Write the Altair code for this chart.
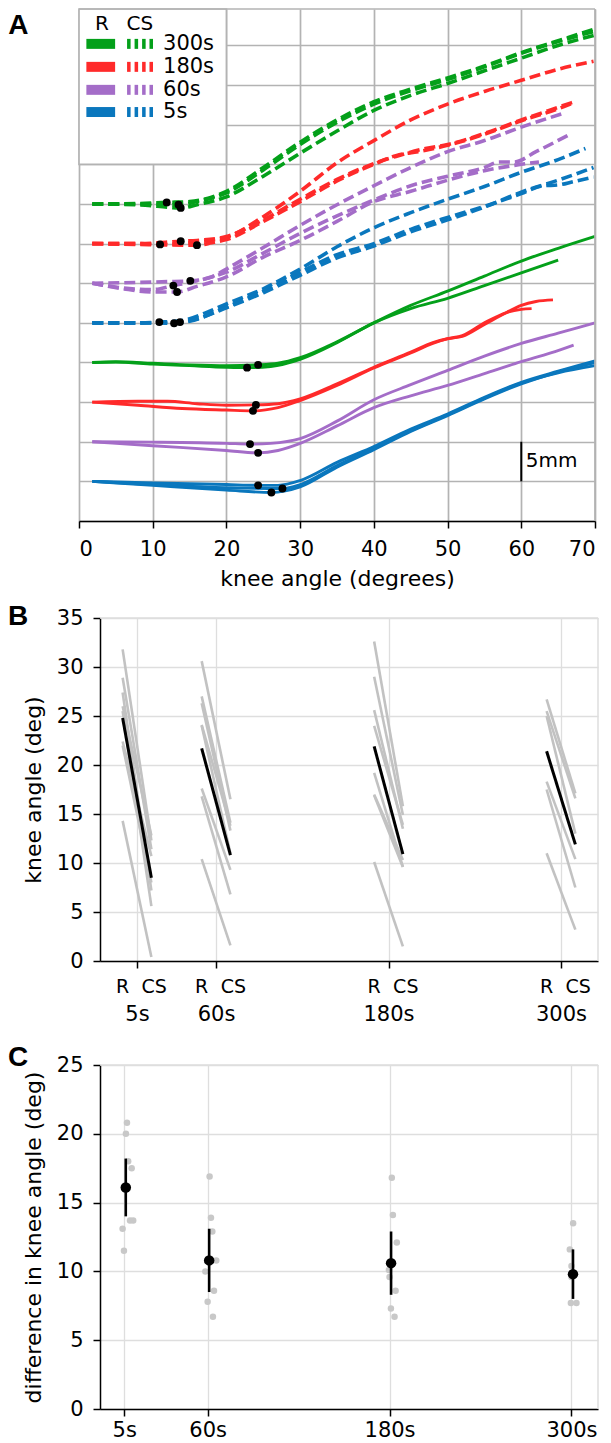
import altair as alt
import pandas as pd

# ---------------- Panel A data (knee angle in degrees, displacement in mm incl. offset) ----------------
conds = ["5s", "60s", "180s", "300s"]
cond_colors = ["#0a77bd", "#a46dc8", "#ff2a2a", "#04a01a"]

blue_r1 = [(1.8, 5.0), (10, 4.8), (20, 4.6), (24.3, 4.5), (27, 4.5), (30, 5.1), (35, 7.4), (40, 9.4), (45, 11.6), (50, 13.5), (55, 15.6), (60, 17.5), (65, 18.9), (70, 20.2)]
blue_r2 = [(1.8, 5.0), (10, 4.5), (20, 3.9), (26.1, 3.6), (28, 3.8), (30, 4.3), (35, 6.8), (40, 9.0), (45, 11.3), (50, 13.3), (55, 15.4), (60, 17.3), (65, 18.8), (70, 20.0)]
blue_r3 = [(1.8, 5.0), (10, 4.6), (20, 4.2), (27.6, 4.1), (30, 4.6), (35, 7.0), (40, 9.2), (45, 11.4), (50, 13.4), (55, 15.5), (60, 17.4), (65, 18.7), (70, 19.6)]
purple_r1 = [(1.8, 10.0), (10, 9.95), (20, 9.8), (23.2, 9.7), (26, 9.8), (30, 10.4), (35, 12.6), (40, 15.3), (45, 17.2), (50, 19.0), (55, 20.8), (60, 22.4), (65, 23.7), (70, 25.0)]
purple_r2 = [(1.8, 10.0), (10, 9.5), (20, 8.9), (24.3, 8.6), (27, 8.9), (30, 9.8), (35, 12.0), (40, 14.3), (45, 15.8), (50, 17.1), (55, 18.6), (60, 20.1), (64, 21.2), (67.1, 22.2)]
red_r1 = [(1.8, 15.0), (8, 15.1), (12, 15.1), (16, 14.8), (20, 14.6), (24.0, 14.65), (27, 14.8), (30, 15.4), (35, 17.3), (40, 19.4), (45, 21.3), (48, 22.5), (50, 23.0), (52, 23.3), (55, 24.8), (58, 26.3), (60, 27.2), (62, 27.7), (64.3, 27.9)]
red_r2 = [(1.8, 15.0), (8, 14.6), (14, 14.2), (20, 14.0), (23.6, 13.9), (27, 14.3), (30, 15.2), (35, 17.1), (40, 19.3), (45, 21.2), (48, 22.4), (50, 23.0), (52, 23.4), (55, 25.0), (58, 26.3), (60, 26.7), (61.4, 26.8)]
green_r1 = [(1.8, 20.0), (5, 20.1), (10, 19.9), (15, 19.7), (20, 19.6), (24.3, 19.7), (27, 19.9), (30, 20.6), (35, 22.6), (40, 25.0), (45, 27.2), (50, 29.0), (55, 30.9), (60, 32.8), (65, 34.4), (70, 35.9)]
green_r2 = [(1.8, 20.0), (5, 20.05), (10, 19.8), (15, 19.6), (20, 19.4), (22.8, 19.35), (26, 19.5), (30, 20.4), (35, 22.5), (40, 25.0), (45, 26.8), (50, 28.1), (55, 29.7), (60, 31.3), (65, 32.9)]

blue_cs1 = [(1.8, 25.0), (8, 25.0), (10.9, 25.1), (14, 25.3), (17, 26.2), (20, 27.4), (25, 29.3), (30, 31.8), (35, 34.6), (40, 37.0), (45, 38.9), (50, 40.6), (55, 42.2), (60, 44.0), (65, 45.6), (68.7, 47.0)]
blue_cs2 = [(1.8, 25.0), (8, 25.0), (12.9, 24.95), (15, 25.2), (20, 27.0), (25, 29.0), (30, 31.4), (35, 33.6), (40, 35.0), (45, 36.8), (50, 38.3), (55, 39.7), (60, 41.3), (63, 42.3), (65, 42.4), (67, 42.8), (69.8, 43.4)]
blue_cs3 = [(1.8, 25.0), (8, 25.0), (13.7, 25.1), (16, 25.5), (20, 26.9), (25, 28.8), (30, 31.0), (35, 33.2), (40, 34.7), (45, 36.5), (50, 38.0), (55, 39.6), (60, 41.5), (65, 43.0), (69.8, 44.6)]
purple_cs1 = [(1.8, 30.0), (8, 30.1), (12, 30.2), (15.1, 30.3), (18, 30.8), (20, 31.8), (25, 34.5), (30, 37.3), (35, 39.9), (40, 42.3), (45, 44.6), (50, 46.6), (55, 48.0), (60, 49.7), (65.6, 51.4)]
purple_cs2 = [(1.8, 30.0), (6, 29.4), (10, 29.2), (12.8, 29.7), (16, 30.3), (20, 31.4), (25, 33.8), (30, 36.3), (35, 38.5), (40, 40.5), (45, 42.3), (50, 43.5), (55, 44.6), (57, 45.3), (59, 45.3), (62, 46.6), (66.4, 48.7)]
purple_cs3 = [(1.8, 30.0), (6, 29.3), (10, 28.9), (13.3, 28.9), (16, 29.6), (20, 30.8), (25, 33.3), (30, 35.4), (35, 37.8), (40, 40.3), (45, 41.6), (50, 43.0), (55, 44.2), (60, 45.0), (62.4, 45.3)]
red_cs1 = [(1.8, 35.0), (8, 35.0), (11.0, 34.9), (14, 35.0), (17, 35.3), (20, 35.8), (25, 38.4), (30, 41.6), (35, 45.2), (40, 48.0), (45, 50.6), (50, 52.6), (55, 54.2), (60, 55.6), (65, 57.0), (69.8, 58.0)]
red_cs2 = [(1.8, 35.0), (8, 35.0), (13.8, 35.3), (16, 35.4), (20, 35.9), (25, 38.0), (30, 40.6), (35, 43.1), (40, 45.1), (43, 46.0), (47, 47.0), (50, 47.5), (55, 48.9), (60, 50.6), (65, 52.2), (67.2, 52.9)]
red_cs3 = [(1.8, 35.0), (8, 34.9), (16.0, 34.8), (18, 35.1), (20, 35.5), (25, 37.8), (30, 40.3), (35, 42.9), (40, 45.0), (43, 46.1), (46, 46.6), (50, 47.4), (55, 48.8), (60, 50.5), (65, 52.0), (67.2, 52.8)]
green_cs1 = [(1.8, 40.0), (8, 40.05), (11.9, 40.2), (15, 40.3), (20, 41.6), (25, 44.6), (30, 47.8), (35, 50.6), (40, 52.9), (45, 54.5), (50, 55.9), (55, 57.4), (60, 59.1), (65, 60.6), (70, 62.1)]
green_cs2 = [(1.8, 40.0), (8, 40.0), (13.5, 39.9), (16, 40.3), (20, 41.4), (25, 44.3), (30, 47.5), (35, 50.3), (40, 52.6), (45, 54.3), (50, 55.7), (55, 57.3), (60, 59.0), (65, 60.5), (70, 61.8)]
green_cs3 = [(1.8, 40.0), (8, 39.9), (13.8, 39.5), (16, 39.9), (20, 40.9), (25, 43.5), (30, 46.4), (35, 49.2), (40, 51.8), (45, 53.7), (50, 55.2), (55, 56.8), (60, 58.4), (65, 60.0), (70, 61.3)]

knee_deg = [24.3, 26.1, 27.6, 23.2, 24.3, 24.0, 23.6, 22.8, 24.3,
            10.9, 12.9, 13.7, 15.1, 12.8, 13.3, 11.0, 13.8, 16.0, 11.9, 13.5, 13.8]
knee_mm = [4.5, 3.6, 4.1, 9.7, 8.6, 14.65, 13.9, 19.35, 19.7,
           25.1, 24.95, 25.1, 30.3, 29.7, 28.9, 34.9, 35.3, 34.8, 40.2, 39.9, 39.5]

# ---------------- Panel B data (knee angle, deg) ----------------
times = [5, 60, 180, 300]
b_r_5 = [31.8, 28.9, 27.4, 26.0, 25.5, 22.4, 22.0, 14.3]
b_cs_5 = [12.3, 11.4, 7.2, 12.8, 5.6, 10.7, 8.0, 0.4]
b_r_60 = [30.6, 27.0, 26.3, 24.1, 24.0, 17.6, 16.8, 10.4]
b_cs_60 = [16.5, 14.1, 13.3, 13.8, 11.0, 9.3, 6.8, 1.6]
b_r_180 = [32.6, 29.0, 25.6, 24.0, 19.2, 17.0, 16.9, 10.1]
b_cs_180 = [15.8, 14.9, 13.5, 13.9, 9.6, 10.3, 9.6, 1.5]
b_r_300 = [26.7, 25.5, 25.0, 18.3, 17.5, 11.0]
b_cs_300 = [17.1, 16.6, 13.0, 10.4, 7.5, 3.2]
b_mean_r = [24.8, 21.7, 21.9, 21.4]
b_mean_cs = [8.5, 10.8, 10.9, 11.9]

# ---------------- Panel C data (difference, deg) ----------------
c_5 = [20.8, 20.0, 18.0, 17.5, 13.7, 13.7, 13.1, 11.5]
c_60 = [16.9, 13.9, 12.9, 10.8, 10.0, 8.6, 7.8, 6.7]
c_180 = [16.8, 14.1, 12.1, 10.1, 9.6, 8.6, 7.3, 6.7]
c_300 = [13.5, 11.6, 10.4, 9.6, 7.7, 7.7]
c_jit_5 = [1.8, 1.1, 2.6, 4.9, 3.8, 5.9, -1.1, -0.2]
c_jit_60 = [1.3, 2.2, 3.1, 5.7, -1.5, 4.2, 0.0, 3.5]
c_jit_180 = [1.5, 2.2, 4.8, -0.4, 0.0, 4.0, 0.9, 3.3]
c_jit_300 = [1.1, -1.1, 0.0, 0.0, -0.4, 3.3]
c_mean = [16.1, 10.8, 10.6, 9.8]
c_lo = [14.0, 8.5, 8.3, 8.0]
c_hi = [18.2, 13.1, 12.9, 11.6]

FONT = "DejaVu Sans"
one = pd.DataFrame({"k": [0]})

# ================= Panel A =================
WA, HA = 516, 512
GRID_A = "#b3b3b3"
traces = [
    ("5s", "R", blue_r1), ("5s", "R", blue_r2), ("5s", "R", blue_r3),
    ("60s", "R", purple_r1), ("60s", "R", purple_r2),
    ("180s", "R", red_r1), ("180s", "R", red_r2),
    ("300s", "R", green_r1), ("300s", "R", green_r2),
    ("5s", "CS", blue_cs1), ("5s", "CS", blue_cs2), ("5s", "CS", blue_cs3),
    ("60s", "CS", purple_cs1), ("60s", "CS", purple_cs2), ("60s", "CS", purple_cs3),
    ("180s", "CS", red_cs1), ("180s", "CS", red_cs2), ("180s", "CS", red_cs3),
    ("300s", "CS", green_cs1), ("300s", "CS", green_cs2), ("300s", "CS", green_cs3),
]
rows = []
for ti, (c, kind, pts) in enumerate(traces):
    for oi, (xv, yv) in enumerate(pts):
        rows.append({"x": xv, "y": yv, "trace": ti, "cond": c, "kind": kind, "o": oi})
dfA = pd.DataFrame(rows)

xA = alt.X("x:Q", scale=alt.Scale(domain=[0, 70], nice=False, zero=False),
           axis=alt.Axis(values=list(range(0, 71, 10)), title="knee angle (degrees)",
                         grid=True, gridColor=GRID_A, gridWidth=1.7,
                         labelPadding=10, titlePadding=9))
yA = alt.Y("y:Q", scale=alt.Scale(domain=[0, 64.6], nice=False, zero=False),
           axis=alt.Axis(values=list(range(0, 61, 5)), grid=True, gridColor=GRID_A, gridWidth=1.7,
                         labels=False, ticks=False, domain=False, title=None))
colA = alt.Color("cond:N", scale=alt.Scale(domain=conds, range=cond_colors), legend=None)

linesR = alt.Chart(dfA[dfA.kind == "R"]).mark_line(strokeWidth=2.9, interpolate="monotone").encode(
    x=xA, y=yA, color=colA, detail="trace:N", order="o:Q")
linesCS = alt.Chart(dfA[dfA.kind == "CS"]).mark_line(strokeWidth=3.6, interpolate="monotone",
                                                     strokeDash=[11, 5]).encode(
    x=xA, y=yA, color=colA, detail="trace:N", order="o:Q")
dots = alt.Chart(pd.DataFrame({"x": knee_deg, "y": knee_mm})).mark_circle(
    size=62, color="black", opacity=1).encode(x=xA, y=yA)

# legend box (white area in the upper-left grid cells)
leg_box = alt.Chart(pd.DataFrame({"x": [0], "x2": [20], "y": [45], "y2": [64.6]})).mark_rect(
    fill="white", stroke=GRID_A, strokeWidth=1.7).encode(x=xA, x2="x2:Q", y=yA, y2="y2:Q")
leg_order = ["300s", "180s", "60s", "5s"]
row_mm = [60.2, 57.3, 54.4, 51.6]
half = 0.63
leg_solid = alt.Chart(pd.DataFrame({
    "x": [1.0] * 4, "x2": [4.9] * 4, "y": [m - half for m in row_mm], "y2": [m + half for m in row_mm],
    "cond": leg_order})).mark_rect().encode(x=xA, x2="x2:Q", y=yA, y2="y2:Q", color=colA)
bar_centers = [6.76, 7.78, 8.8, 9.8]
dash_rows = []
for m, c in zip(row_mm, leg_order):
    for bc in bar_centers:
        dash_rows.append({"x": bc - 0.24, "x2": bc + 0.24, "y": m - half, "y2": m + half, "cond": c})
leg_dash = alt.Chart(pd.DataFrame(dash_rows)).mark_rect().encode(
    x=xA, x2="x2:Q", y=yA, y2="y2:Q", color=colA)
leg_text = alt.Chart(pd.DataFrame({"x": [11.4] * 4, "y": row_mm, "t": leg_order})).mark_text(
    align="left", baseline="middle", fontSize=21, font=FONT, color="black").encode(x=xA, y=yA, text="t:N")
leg_head = alt.Chart(pd.DataFrame({"x": [3.1, 8.25], "y": [62.7, 62.7], "t": ["R", "CS"]})).mark_text(
    align="center", baseline="middle", fontSize=20, font=FONT, color="black").encode(x=xA, y=yA, text="t:N")

# 5 mm scale bar
scale_bar = alt.Chart(pd.DataFrame({"x": [60], "y": [5], "y2": [10]})).mark_rule(
    color="black", strokeWidth=2).encode(x=xA, y=yA, y2="y2:Q")
scale_txt = alt.Chart(pd.DataFrame({"x": [60.6], "y": [7.6], "t": ["5mm"]})).mark_text(
    align="left", baseline="middle", fontSize=20, font=FONT, color="black").encode(x=xA, y=yA, text="t:N")

frameA_top = alt.Chart(one).mark_rule(color=GRID_A, strokeWidth=1.7).encode(
    x=alt.value(0), x2=alt.value(WA), y=alt.value(0))
frameA_right = alt.Chart(one).mark_rule(color=GRID_A, strokeWidth=1.7).encode(
    x=alt.value(WA), y=alt.value(0), y2=alt.value(HA))
letterA = alt.Chart(one).mark_text(text="A", align="left", baseline="alphabetic", fontSize=28,
                                   font="Liberation Sans", fontWeight="bold", color="black").encode(
    x=alt.value(-70.7), y=alt.value(25))

panelA = alt.layer(leg_box, linesCS, linesR, dots, leg_solid, leg_dash, leg_text, leg_head,
                   scale_bar, scale_txt, frameA_top, frameA_right, letterA).properties(width=WA, height=HA)

# ================= Panel B =================
WB, HB = 498, 343
GRID_L = "#dedede"
b_r = [b_r_5, b_r_60, b_r_180, b_r_300]
b_cs = [b_cs_5, b_cs_60, b_cs_180, b_cs_300]
rowsB, rowsM = [], []
for i, t in enumerate(times):
    for j, (r, cs) in enumerate(zip(b_r[i], b_cs[i])):
        rowsB.append({"x": t - 10, "y": r, "id": f"{t}_{j}"})
        rowsB.append({"x": t + 10, "y": cs, "id": f"{t}_{j}"})
    rowsM.append({"x": t - 10, "y": b_mean_r[i], "id": str(t)})
    rowsM.append({"x": t + 10, "y": b_mean_cs[i], "id": str(t)})
dfB, dfBM = pd.DataFrame(rowsB), pd.DataFrame(rowsM)

xB = alt.X("x:Q", scale=alt.Scale(domain=[-20.75, 325.75], nice=False, zero=False),
           axis=alt.Axis(values=times, labelExpr="datum.value + 's'", title=None, grid=True,
                         gridColor=GRID_L, gridWidth=1.3, labelPadding=35))
yB = alt.Y("y:Q", scale=alt.Scale(domain=[0, 35], nice=False, zero=False),
           axis=alt.Axis(values=list(range(0, 36, 5)), title="knee angle (deg)", grid=True,
                         gridColor=GRID_L, gridWidth=1.3, labelPadding=10, titlePadding=11))
subj_lines = alt.Chart(dfB).mark_line(color="#c2c2c2", strokeWidth=2.6).encode(x=xB, y=yB, detail="id:N")
mean_lines = alt.Chart(dfBM).mark_line(color="black", strokeWidth=3).encode(x=xB, y=yB, detail="id:N")
rcs_rows = []
for t in times:
    rcs_rows.append({"x": t - 10, "t": "R"})
    rcs_rows.append({"x": t + 12, "t": "CS"})
rcs_text = alt.Chart(pd.DataFrame(rcs_rows)).mark_text(
    baseline="middle", align="center", fontSize=19, font=FONT, color="black").encode(
    x=xB, y=alt.value(HB + 26), text="t:N")
frameB_top = alt.Chart(one).mark_rule(color=GRID_L, strokeWidth=1.5).encode(
    x=alt.value(0), x2=alt.value(WB), y=alt.value(0))
frameB_right = alt.Chart(one).mark_rule(color=GRID_L, strokeWidth=1.5).encode(
    x=alt.value(WB), y=alt.value(0), y2=alt.value(HB))
letterB = alt.Chart(one).mark_text(text="B", align="left", baseline="alphabetic", fontSize=28,
                                   font="Liberation Sans", fontWeight="bold", color="black").encode(
    x=alt.value(-92), y=alt.value(7))
panelB = alt.layer(subj_lines, mean_lines, rcs_text, frameB_top, frameB_right, letterB).properties(
    width=WB, height=HB)

# ================= Panel C =================
WC, HC = 498, 344
c_vals = [c_5, c_60, c_180, c_300]
c_jit = [c_jit_5, c_jit_60, c_jit_180, c_jit_300]
rowsC = []
for i, t in enumerate(times):
    for v, j in zip(c_vals[i], c_jit[i]):
        rowsC.append({"x": t + j, "y": v})
dfC = pd.DataFrame(rowsC)
dfCM = pd.DataFrame({"x": [t + 1 for t in times], "y": c_mean, "lo": c_lo, "hi": c_hi})

c_yscale = alt.Scale(domain=[0, 25], nice=False, zero=False)
c_yaxis = alt.Axis(values=list(range(0, 26, 5)), title="difference in knee angle (deg)", grid=True,
                   gridColor=GRID_L, gridWidth=1.3, labelPadding=10, titlePadding=11)
xC = alt.X("x:Q", scale=alt.Scale(domain=[-11, 317.5], nice=False, zero=False),
           axis=alt.Axis(values=times, labelExpr="datum.value + 's'", title=None, grid=True,
                         gridColor=GRID_L, gridWidth=1.3, labelPadding=3))
yC = alt.Y("y:Q", scale=c_yscale, axis=c_yaxis)
c_dots = alt.Chart(dfC).mark_circle(size=42, color="#c8c8c8", opacity=1).encode(x=xC, y=yC)
c_err = alt.Chart(dfCM).mark_rule(color="black", strokeWidth=2.6).encode(
    x=xC, y=alt.Y("lo:Q", scale=c_yscale, axis=c_yaxis), y2="hi:Q")
c_mean_pt = alt.Chart(dfCM).mark_circle(size=110, color="black", opacity=1).encode(x=xC, y=yC)
frameC_top = alt.Chart(one).mark_rule(color=GRID_L, strokeWidth=1.5).encode(
    x=alt.value(0), x2=alt.value(WC), y=alt.value(0))
frameC_right = alt.Chart(one).mark_rule(color=GRID_L, strokeWidth=1.5).encode(
    x=alt.value(WC), y=alt.value(0), y2=alt.value(HC))
letterC = alt.Chart(one).mark_text(text="C", align="left", baseline="alphabetic", fontSize=28,
                                   font="Liberation Sans", fontWeight="bold", color="black").encode(
    x=alt.value(-92), y=alt.value(1))
panelC = alt.layer(c_dots, c_err, c_mean_pt, frameC_top, frameC_right, letterC).properties(
    width=WC, height=HC)


def spacer():
    return alt.Chart(one).mark_point(opacity=0).encode(x=alt.value(0), y=alt.value(0)).properties(
        width=1, height=1)


rowB = alt.hconcat(spacer(), panelB, spacing=20, bounds="flush")
rowC = alt.hconcat(spacer(), panelC, spacing=20, bounds="flush")

chart = alt.vconcat(panelA, alt.vconcat(rowB, rowC, spacing=20), spacing=14).properties(
    padding={"left": 0, "top": 0, "right": 0, "bottom": 0}
).configure_view(stroke=None).configure_axis(
    labelFont=FONT, titleFont=FONT, labelFontSize=21, titleFontSize=22,
    labelColor="black", titleColor="black", titleFontWeight="normal",
    tickColor="black", domainColor="black", tickSize=7, tickWidth=1.5, domainWidth=1.5
)

chart.save("out.html", embed_options={"renderer": "svg", "actions": False})
